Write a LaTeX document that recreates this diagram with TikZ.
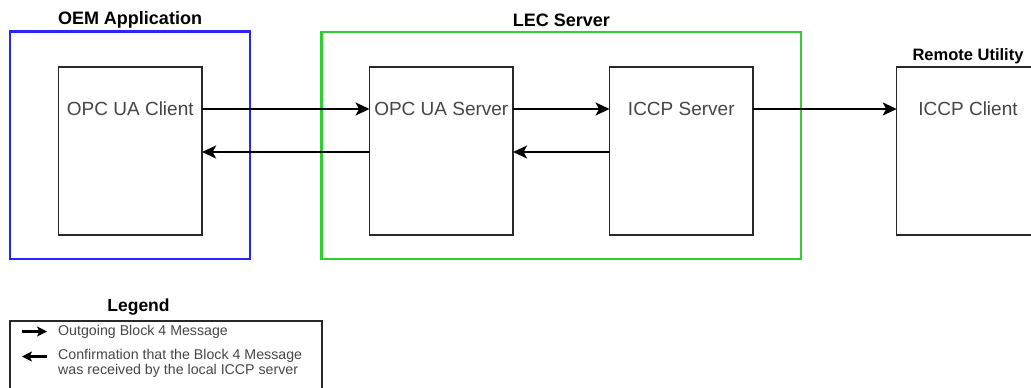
\documentclass[tikz,border=0pt]{standalone}
\usepackage{fontspec}
\setmainfont{Liberation Sans}
\usetikzlibrary{arrows.meta}
\definecolor{oemblue}{RGB}{40,40,245}
\definecolor{lecgreen}{RGB}{50,205,50}
\definecolor{boxline}{RGB}{40,40,40}
\definecolor{boxtxt}{RGB}{70,70,70}
\tikzset{
  comp/.style={draw=boxline, line width=1.2pt, fill=white, minimum width=143.5pt, minimum height=168pt, inner sep=0pt, outer sep=0pt},
  group/.style={line width=2.2pt, inner sep=0pt, outer sep=0pt},
  comptext/.style={text=boxtxt, font=\fontsize{19}{22}\selectfont, inner sep=0pt},
  grouptitle/.style={font=\bfseries\fontsize{18}{21}\selectfont, inner sep=0pt},
  flow/.style={line width=2.3pt, -{Stealth[length=14pt, width=13pt, inset=3.5pt]}},
  keyflow/.style={line width=2.3pt, -{Stealth[length=10pt, width=10pt, inset=2.5pt]}},
  legtext/.style={text=boxtxt, font=\fontsize{14.2}{15.5}\selectfont, inner sep=0pt, anchor=west, align=left},
}
\begin{document}
\begin{tikzpicture}[x=1pt, y=-1pt]
\useasboundingbox (0,0) rectangle (1031,388);

% grouping frames
\draw[group, oemblue] (10,31.5) rectangle (250,259);
\draw[group, lecgreen] (321.5,32) rectangle (801,259);
\node[grouptitle] (oemtitle) at (130,20) {OEM Application};
\node[grouptitle] (lectitle) at (561.5,20) {LEC Server};
\node[grouptitle, font=\bfseries\fontsize{16.5}{19}\selectfont] (remtitle) at (968,56) {Remote Utility};

% components
\node[comp] (client) at (130.3,151) {};
\node[comp] (uaserver) at (441.3,151) {};
\node[comp] (iccpserver) at (681.3,151) {};
\node[comp] (iccpclient) at (968.5,151) {};

\node[comptext] (clienttxt) at (130.3,109) {OPC UA Client};
\node[comptext] (uaservertxt) at (441.3,109) {OPC UA Server};
\node[comptext] (iccpservertxt) at (681.3,109) {ICCP Server};
\node[comptext] (iccpclienttxt) at (968,109) {ICCP Client};

% outgoing messages
\draw[flow] (client.east |- clienttxt) -- (uaserver.west |- clienttxt);
\draw[flow] (uaserver.east |- clienttxt) -- (iccpserver.west |- clienttxt);
\draw[flow] (iccpserver.east |- clienttxt) -- (iccpclient.west |- clienttxt);

% confirmations
\draw[flow] ([yshift=-1pt]iccpserver.west) -- ([yshift=-1pt]uaserver.east);
\draw[flow] ([yshift=-1pt]uaserver.west) -- ([yshift=-1pt]client.east);

% legend
\node[grouptitle, font=\bfseries\fontsize{17.5}{20}\selectfont] (legtitle) at (138.5,307.5) {Legend};
\draw[line width=2.2pt, draw=boxline] (10,321) rectangle (322,400);
\coordinate (k1a) at (22,331.5);
\coordinate (k1b) at (47,331.5);
\coordinate (k2a) at (47,356.5);
\coordinate (k2b) at (22,356.5);
\draw[keyflow] (k1a) -- (k1b);
\draw[keyflow] (k2a) -- (k2b);
\node[legtext] (leg1) at (58,331.5) {Outgoing Block 4 Message};
\node[legtext, anchor=north west] (leg2) at (58,349) {Confirmation that the Block 4 Message\\was received by the local ICCP server};
\end{tikzpicture}
\end{document}
